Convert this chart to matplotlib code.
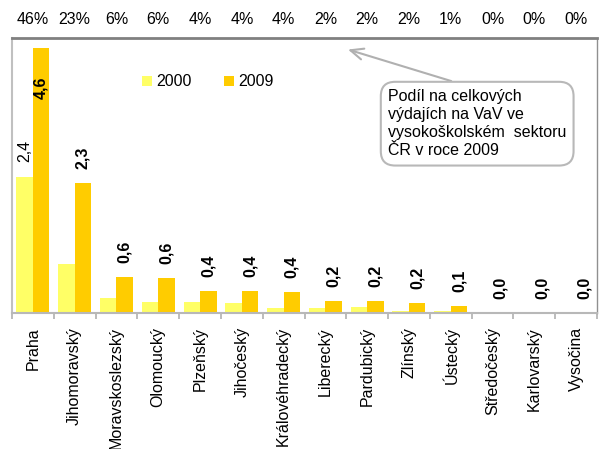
import matplotlib.pyplot as plt
import matplotlib.transforms as mtransforms
import numpy as np

plt.rcParams["font.family"] = ["Liberation Sans", "DejaVu Sans"]
plt.rcParams["font.size"] = 11.5

regions = ["Praha", "Jihomoravský", "Moravskoslezský", "Olomoucký", "Plzeňský",
           "Jihočeský", "Královéhradecký", "Liberecký", "Pardubický", "Zlínský",
           "Ústecký", "Středočeský", "Karlovarský", "Vysočina"]
values_2000 = [2.36, 0.85, 0.26, 0.19, 0.19, 0.17, 0.09, 0.08, 0.10, 0.03, 0.03, 0.0, 0.0, 0.0]
values_2009 = [4.60, 2.26, 0.62, 0.61, 0.39, 0.38, 0.36, 0.21, 0.21, 0.18, 0.12, 0.0, 0.0, 0.0]
share_2009 = [46, 23, 6, 6, 4, 4, 4, 2, 2, 2, 1, 0, 0, 0]

color_2000 = "#FFFF66"
color_2009 = "#FFCC00"


def fmt(v):
    return f"{v:.1f}".replace(".", ",")


fig = plt.figure(figsize=(6.0, 4.49), dpi=100)
ax = fig.add_axes([0.02, 0.3029, 0.975, 0.6125])

x = np.arange(len(regions))
w = 0.395
ax.bar(x - w / 2, values_2000, w, color=color_2000, label="2000")
ax.bar(x + w / 2, values_2009, w, color=color_2009, label="2009")

ymax = 4.77
ax.set_xlim(-0.5, len(regions) - 0.5)
ax.set_ylim(0, ymax)

# popisky hodnot
ax.annotate(fmt(values_2000[0]), (x[0] - w / 2, values_2000[0]), xytext=(0, 11),
            textcoords="offset points", rotation=90, ha="center", va="bottom")
for xi, v in zip(x, values_2009):
    if v > 0.8 * ymax:
        ax.annotate(fmt(v), (xi + w / 2, v), xytext=(0, -21), textcoords="offset points",
                    rotation=90, ha="center", va="top", fontweight="bold")
    else:
        ax.annotate(fmt(v), (xi + w / 2, v), xytext=(0, 10), textcoords="offset points",
                    rotation=90, ha="center", va="bottom", fontweight="bold")

# podíly nahoře
trans = mtransforms.blended_transform_factory(ax.transData, ax.transAxes)
for xi, p in zip(x, share_2009):
    ax.text(xi, 1.069, f"{p}%", transform=trans, ha="center", va="center")

# osy
ax.set_yticks([])
ax.set_xticks(np.arange(len(regions) + 1) - 0.5)
ax.set_xticklabels([])
ax.tick_params(axis="x", which="major", length=4, color="#b0b0b0", width=1.2)
ax.set_xticks(x, minor=True)
ax.set_xticklabels(regions, minor=True, rotation=90, va="top", ha="center")
ax.tick_params(axis="x", which="minor", length=0, pad=10)

ax.spines["left"].set_color("#c0c0c0")
ax.spines["left"].set_linewidth(1.5)
ax.spines["bottom"].set_color("#b8b8b8")
ax.spines["bottom"].set_linewidth(1.5)
ax.spines["top"].set_color("#808080")
ax.spines["top"].set_linewidth(2)
ax.spines["right"].set_color("#909090")
ax.spines["right"].set_linewidth(1)

ax.legend(loc="center", bbox_to_anchor=(0.335, 0.84), ncol=2, frameon=False,
          handlelength=0.6, handleheight=0.6, handletextpad=0.3, columnspacing=2.0)

ax.annotate("Podíl na celkových\nvýdajích na VaV ve\nvysokoškolském  sektoru\nČR v roce 2009",
            xy=(7.54, 4.57), xycoords="data",
            xytext=(388, 449 - 89), textcoords="figure pixels",
            ha="left", va="top", linespacing=1.26,
            bbox=dict(boxstyle="round,pad=0.45,rounding_size=0.9", fc="white",
                      ec="#b8b8b8", lw=1.5),
            arrowprops=dict(arrowstyle="->,head_length=0.8,head_width=0.35",
                            color="#b0b0b0", lw=1.5, relpos=(0.5, 1.0),
                            shrinkA=0, shrinkB=0))

fig.savefig("out.png", dpi=100)
plt.close(fig)
